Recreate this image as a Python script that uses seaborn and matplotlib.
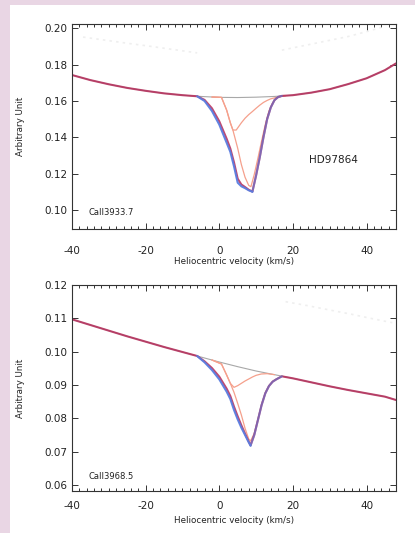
import matplotlib
matplotlib.use('Agg')
import matplotlib.pyplot as plt
from matplotlib.patches import Rectangle
from matplotlib.ticker import MultipleLocator, FormatStrFormatter
import seaborn as sns

sns.set_style('ticks')
plt.rcParams['font.family'] = ['DejaVu Sans']
plt.rcParams['axes.unicode_minus'] = False

# continuum samples (km/s)
vel_cont = [-40, -35, -30, -25, -20, -15, -10, -5, 0, 5, 10, 15, 20, 25, 30, 35, 40, 45, 48]
cont_top = [0.1743, 0.1715, 0.1692, 0.1672, 0.1656, 0.1642, 0.1632, 0.1625, 0.1620, 0.1619,
            0.1621, 0.1625, 0.1632, 0.1646, 0.1665, 0.1693, 0.1725, 0.1770, 0.1807]
cont_bot = [0.1097, 0.1080, 0.1063, 0.1046, 0.1030, 0.1014, 0.0999, 0.0984, 0.0969, 0.0955,
            0.0942, 0.0931, 0.0920, 0.0908, 0.0896, 0.0885, 0.0875, 0.0865, 0.0855]

# CaII 3933.7 absorption
vel_dip_top = [-6, -4, -2, 0, 2, 3, 4, 5, 6, 7, 8, 9, 10, 11, 12, 13, 14, 15, 16, 17]
obs_top = [0.1626, 0.1600, 0.1545, 0.1470, 0.1370, 0.1320, 0.1240, 0.1150, 0.1130, 0.1120,
           0.1108, 0.1100, 0.1190, 0.1290, 0.1400, 0.1500, 0.1565, 0.1605, 0.1622, 0.1628]
fit_top = [0.1626, 0.1606, 0.1560, 0.1488, 0.1392, 0.1338, 0.1262, 0.1172, 0.1140, 0.1126,
           0.1111, 0.1101, 0.1190, 0.1290, 0.1400, 0.1500, 0.1565, 0.1605, 0.1622, 0.1628]
comp1_vel_top = [-2, 0.6, 2, 3, 3.7, 4.6, 6, 7, 8, 9, 10, 11, 12, 13, 14, 16, 18]
comp1_top = [0.1622, 0.1620, 0.1550, 0.1480, 0.1440, 0.1440, 0.1480, 0.1505, 0.1525, 0.1542,
             0.1560, 0.1577, 0.1592, 0.1603, 0.1612, 0.1622, 0.1629]
comp2_vel_top = [-2, 0.6, 2, 3, 3.7, 5, 6, 7, 8, 8.6, 9.5, 10.5, 11.5, 12.5, 13.5, 14.5, 15.5, 17]
comp2_top = [0.1622, 0.1620, 0.1550, 0.1480, 0.1440, 0.1340, 0.1250, 0.1180, 0.1135, 0.1128,
             0.1195, 0.1285, 0.1380, 0.1470, 0.1545, 0.1590, 0.1615, 0.1628]
# faint residual traces near the top of the panel
resid_vel_top = [-37, -31, -25, -19, -13, -6, None, 17, 23, 29, 35, 40, 44]
resid_top = [0.1952, 0.1935, 0.1918, 0.1902, 0.1885, 0.1865, None, 0.1880, 0.1905, 0.1930,
             0.1955, 0.1982, 0.2005]

# CaII 3968.5 absorption
vel_dip_bot = [-6, -4, -2, 0, 2, 3, 4, 5, 6, 7, 8, 8.5, 9.5, 10.5, 11.5, 12.5, 13.5, 14.5, 15.5, 17]
obs_bot = [0.0987, 0.0968, 0.0945, 0.0917, 0.0880, 0.0858, 0.0825, 0.0797, 0.0772, 0.0750,
           0.0728, 0.0718, 0.0750, 0.0795, 0.0840, 0.0875, 0.0897, 0.0910, 0.0917, 0.0926]
fit_bot = [0.0987, 0.0971, 0.0951, 0.0925, 0.0889, 0.0867, 0.0835, 0.0806, 0.0779, 0.0754,
           0.0730, 0.0719, 0.0750, 0.0795, 0.0840, 0.0875, 0.0897, 0.0910, 0.0917, 0.0926]
comp1_vel_bot = [-2, 0.6, 2, 3, 4, 5, 6, 7, 8, 9, 10, 11.4, 13, 15]
comp1_bot = [0.0975, 0.0963, 0.0930, 0.0905, 0.0893, 0.0898, 0.0905, 0.0912, 0.0918, 0.0924,
             0.0929, 0.0933, 0.0934, 0.0931]
comp2_vel_bot = [-2, 0.6, 2, 3, 4, 5, 6, 7, 8, 8.5, 9.5, 10.5, 11.5, 12.5, 13.5, 14.5, 15.5, 17]
comp2_bot = [0.0975, 0.0963, 0.0930, 0.0905, 0.0878, 0.0845, 0.0810, 0.0770, 0.0738, 0.0732,
             0.0755, 0.0797, 0.0842, 0.0877, 0.0898, 0.0911, 0.0918, 0.0926]
resid_vel_bot = [18, 24, 30, 36, 42, 47]
resid_bot = [0.1150, 0.1138, 0.1125, 0.1112, 0.1098, 0.1087]

BLUE = '#5a7de0'
RED = '#b52a58'
SALMON = '#f5a08c'
GREY = '#a8a8a8'
GHOST = '#efefef'


def draw_panel(ax, cont, vel_dip, obs, fit, c1v, c1, c2v, c2, rv, rr, ylim, ystep,
               label, label_y, xpad, xlabelpad):
    ax.plot(rv, rr, color=GHOST, lw=1.2, ls=(0, (1.5, 2.5)))
    sns.lineplot(x=vel_cont, y=cont, ax=ax, color=GREY, lw=0.8, sort=False, estimator=None)
    sns.lineplot(x=c1v, y=c1, ax=ax, color=SALMON, lw=0.9, sort=False, estimator=None)
    sns.lineplot(x=c2v, y=c2, ax=ax, color=SALMON, lw=0.9, sort=False, estimator=None)

    # model = continuum outside the line + fitted profile inside
    lo, hi = vel_dip[0], vel_dip[-1]
    mv = [v for v in vel_cont if v < lo] + vel_dip + [v for v in vel_cont if v > hi]
    my = [c for v, c in zip(vel_cont, cont) if v < lo] + fit + \
         [c for v, c in zip(vel_cont, cont) if v > hi]
    sns.lineplot(x=mv, y=my, ax=ax, color=RED, lw=1.5, alpha=0.85, sort=False, estimator=None)

    # observed profile: blue wing on the left, blended with the fit on the right
    k = obs.index(min(obs))
    sns.lineplot(x=vel_dip[:k + 1], y=obs[:k + 1], ax=ax, color=BLUE, lw=1.5, alpha=0.95,
                 sort=False, estimator=None)
    sns.lineplot(x=vel_dip[k:], y=obs[k:], ax=ax, color=BLUE, lw=1.5, alpha=0.6,
                 sort=False, estimator=None)

    ax.set_xlim(-40, 48)
    ax.set_ylim(*ylim)
    ax.xaxis.set_major_locator(MultipleLocator(20))
    ax.xaxis.set_minor_locator(MultipleLocator(2))
    ax.yaxis.set_major_locator(MultipleLocator(ystep))
    ax.yaxis.set_major_formatter(FormatStrFormatter('%.2f'))
    ax.tick_params(which='both', direction='in', top=True, right=True, width=0.7,
                   colors='#333333', labelcolor='#222222')
    ax.tick_params(which='major', length=4.5, labelsize=7.5)
    ax.tick_params(axis='x', which='major', pad=xpad)
    ax.tick_params(axis='y', which='major', pad=3)
    ax.tick_params(which='minor', length=2.5)
    for s in ax.spines.values():
        s.set_linewidth(0.8)
        s.set_color('#333333')
    ax.set_facecolor('white')
    ax.set_xlabel('Heliocentric velocity (km/s)', fontsize=6.3, labelpad=xlabelpad, color='#222222')
    ax.set_ylabel('Arbitrary Unit', fontsize=6.3, labelpad=14, color='#222222')
    ax.text(0.05, label_y, label, transform=ax.transAxes,
            fontsize=6, va='center', ha='left', color='#222222')


fig = plt.figure(figsize=(4.15, 5.33), dpi=100, facecolor='#e9d6e4')
fig.add_artist(Rectangle((10 / 415, 0), 1, 1 - 5 / 533, transform=fig.transFigure,
                         facecolor='white', edgecolor='none', zorder=-10))

ax1 = fig.add_axes([72 / 415, 1 - 229 / 533, 324 / 415, 205 / 533])
ax2 = fig.add_axes([72 / 415, 1 - 491 / 533, 324 / 415, 206 / 533])

draw_panel(ax1, cont_top, vel_dip_top, obs_top, fit_top, comp1_vel_top, comp1_top,
           comp2_vel_top, comp2_top, resid_vel_top, resid_top, (0.0895, 0.2024), 0.02,
           'CaII3933.7', 0.08, 12, 1)
ax1.text(0.806, 0.335, 'HD97864', transform=ax1.transAxes, fontsize=7.5,
         ha='center', va='center', color='#222222')

draw_panel(ax2, cont_bot, vel_dip_bot, obs_bot, fit_bot, comp1_vel_bot, comp1_bot,
           comp2_vel_bot, comp2_bot, resid_vel_bot, resid_bot, (0.0582, 0.1200), 0.01,
           'CaII3968.5', 0.07, 7, 3.5)

fig.savefig('out.png', dpi=100, facecolor=fig.get_facecolor())
